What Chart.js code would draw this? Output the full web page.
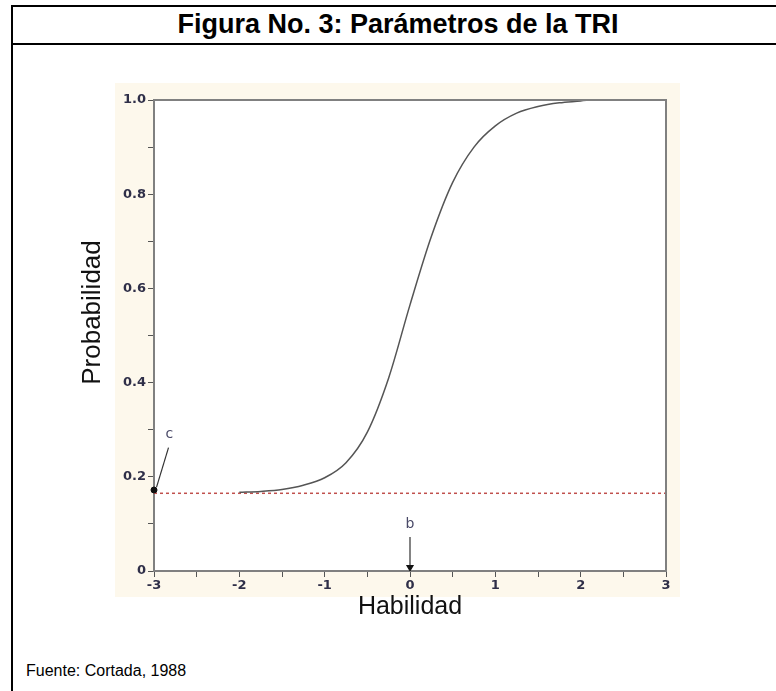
<!DOCTYPE html>
<html>
<head>
<meta charset="utf-8">
<script src="https://cdn.jsdelivr.net/npm/chart.js@4.4.0/dist/chart.umd.min.js"></script>
<style>
  html, body { margin: 0; padding: 0; background: #fff; }
  body { width: 776px; height: 691px; position: relative; overflow: hidden; font-family: "Liberation Sans", Arial, sans-serif; }
  .bl { position: absolute; background: #000; }
  #title { position: absolute; left: 13px; top: 6px; width: 770px; height: 37px; line-height: 37px; text-align: center; font-weight: bold; font-size: 27px; color: #000; }
  #source { position: absolute; left: 26px; top: 662px; font-size: 16px; color: #000; }
  #wrap { position: absolute; left: 60px; top: 70px; width: 660px; height: 560px; }
</style>
</head>
<body>
<div class="bl" style="left:11px;top:5px;width:2px;height:686px"></div>
<div class="bl" style="left:11px;top:5px;width:765px;height:2px"></div>
<div class="bl" style="left:11px;top:43px;width:765px;height:2px"></div>
<div id="title">Figura No. 3: Parámetros de la TRI</div>
<div id="wrap"><canvas id="triChart" width="660" height="560"></canvas></div>
<div id="source">Fuente: Cortada, 1988</div>
<script>
// curva característica del ítem
const habilidad = [-2, -1.75, -1.5, -1.25, -1, -0.75, -0.5, -0.25, 0, 0.25, 0.5, 0.75, 1, 1.25, 1.5, 1.75, 2, 2.1];
const probabilidad = [0.167, 0.169, 0.173, 0.182, 0.198, 0.23, 0.295, 0.41, 0.565, 0.71, 0.825, 0.9, 0.945, 0.972, 0.986, 0.994, 0.998, 1.0];

// asíntota inferior (parámetro c)
const asintotaX = [-3, 3];
const asintotaY = [0.165, 0.165];

// anotaciones c y b (en unidades de datos)
const puntoC = [-3, 0.172];
const flechaC = [[-2.83, 0.262], [-2.97, 0.178]];
const textoC = [-2.82, 0.29, 'c'];
const flechaB = [[0, 0.072], [0, 0.008]];
const textoB = [0, 0.098, 'b'];

const xTicks = [-3, -2, -1, 0, 1, 2, 3];
const yTicks = ['0', '0.2', '0.4', '0.6', '0.8', '1.0'];
const tituloY = 'Probabilidad';

const pts = (xs, ys) => xs.map((x, i) => ({x: x, y: ys[i]}));

const fondo = {
  id: 'fondo',
  beforeDraw(chart) {
    const {ctx, chartArea: a} = chart;
    ctx.save();
    ctx.fillStyle = '#fdf8ec';
    ctx.fillRect(a.left - 39, a.top - 17, a.right - a.left + 53, a.bottom - a.top + 43);
    ctx.fillStyle = '#fff';
    ctx.fillRect(a.left, a.top, a.right - a.left, a.bottom - a.top);
    ctx.restore();
  },
  afterDatasetsDraw(chart) {
    const {ctx, chartArea: a, scales: {x, y}} = chart;
    ctx.save();
    ctx.strokeStyle = '#808080';
    ctx.lineWidth = 2;
    ctx.beginPath();
    ctx.moveTo(a.left, a.top);
    ctx.lineTo(a.right, a.top);
    ctx.lineTo(a.right, a.bottom);
    ctx.stroke();
    ctx.fillStyle = '#4a4a68';
    ctx.font = '14px "DejaVu Sans", sans-serif';
    ctx.textAlign = 'center';
    ctx.textBaseline = 'middle';
    [textoC, textoB].forEach(t => ctx.fillText(t[2], x.getPixelForValue(t[0]), y.getPixelForValue(t[1])));
    // título del eje Y, algo por encima del centro como en el original
    ctx.translate(a.left - 61, (a.top + a.bottom) / 2 - 23);
    ctx.rotate(-Math.PI / 2);
    ctx.fillStyle = '#111';
    ctx.font = '26px "Liberation Sans", Arial, sans-serif';
    ctx.fillText(tituloY, 0, 0);
    ctx.restore();
  }
};

const ctx = document.getElementById('triChart').getContext('2d');
const triChart = new Chart(ctx, {
  type: 'line',
  data: {
    datasets: [{
      data: pts(habilidad, probabilidad),
      borderColor: '#555',
      borderWidth: 1.5,
      pointRadius: 0,
      cubicInterpolationMode: 'monotone',
      clip: false
    }, {
      data: pts(flechaC.map(p => p[0]), flechaC.map(p => p[1])),
      borderColor: '#333',
      borderWidth: 1.2,
      pointRadius: 0
    }, {
      data: pts(flechaB.map(p => p[0]), flechaB.map(p => p[1])),
      borderColor: '#333',
      borderWidth: 1.2,
      pointRadius: [0, 3.5],
      pointStyle: 'triangle',
      pointRotation: 180,
      pointBackgroundColor: '#111',
      pointBorderColor: '#111'
    }, {
      data: [{x: puntoC[0], y: puntoC[1]}],
      showLine: false,
      pointRadius: 3,
      pointBackgroundColor: '#111',
      pointBorderColor: '#111',
      clip: false
    }, {
      data: pts(asintotaX, asintotaY),
      borderColor: '#c0504d',
      borderWidth: 1.5,
      borderDash: [3, 3],
      pointRadius: 0
    }]
  },
  options: {
    responsive: false,
    animation: false,
    layout: { padding: { top: 30, right: 54, left: 0, bottom: 0 } },
    plugins: { legend: { display: false }, tooltip: { enabled: false } },
    scales: {
      x: {
        type: 'linear',
        min: -3,
        max: 3,
        afterFit(scale) { scale.height = 59; },
        border: { display: true, color: '#808080', width: 2 },
        grid: { drawOnChartArea: false, drawTicks: true, tickLength: 6, color: '#555' },
        ticks: {
          stepSize: 0.5,
          padding: 1,
          maxRotation: 0,
          autoSkip: false,
          color: '#2f2f48',
          font: { family: 'DejaVu Sans', weight: 'bold', size: 13 },
          callback: v => xTicks.includes(v) ? String(v) : ''
        },
        title: { display: true, text: 'Habilidad', color: '#111', font: { family: 'Liberation Sans', size: 25 }, padding: { top: 0, bottom: 8 } }
      },
      y: {
        min: 0,
        max: 1,
        afterFit(scale) { scale.width = 94; },
        border: { display: true, color: '#808080', width: 2 },
        grid: { drawOnChartArea: false, drawTicks: true, tickLength: 6, color: '#555' },
        ticks: {
          stepSize: 0.1,
          padding: 2,
          autoSkip: false,
          color: '#2f2f48',
          font: { family: 'DejaVu Sans', weight: 'bold', size: 13 },
          callback: (v) => {
            const i = Math.round(v * 10);
            return i % 2 === 0 ? yTicks[i / 2] : '';
          }
        },
        title: { display: false }
      }
    }
  },
  plugins: [fondo]
});
</script>
</body>
</html>
